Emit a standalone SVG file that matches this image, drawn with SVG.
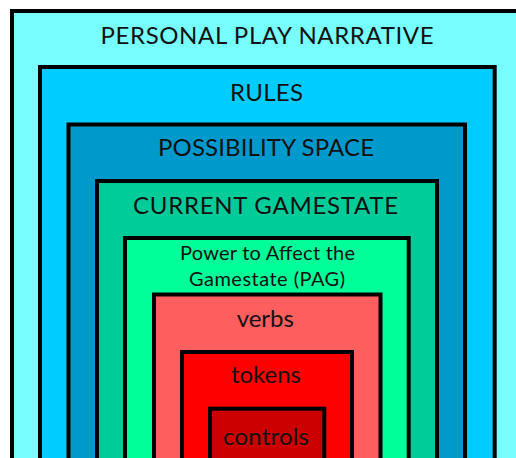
<svg xmlns="http://www.w3.org/2000/svg" width="516" height="458" viewBox="0 0 516 458">
  <style>
    .layer { stroke: #000; stroke-width: 4; }
    .cap { font-family: Lato, "Open Sans", sans-serif; font-size: 24px; fill: #111; text-anchor: middle; }
    .low { font-family: Lato, "Open Sans", sans-serif; font-size: 24px; fill: #111; text-anchor: middle; }
    .pag { font-family: Lato, "Open Sans", sans-serif; font-size: 20px; fill: #111; text-anchor: middle; }
  </style>
  <rect width="516" height="458" fill="#fff"/>
  <!-- nested layers, outermost first; each runs past the bottom edge -->
  <g id="personal-play-narrative">
    <rect class="layer" x="12" y="11" width="512" height="470" fill="#77FFFF"/>
    <text class="cap" x="267" y="44" font-size="26" textLength="333">PERSONAL PLAY NARRATIVE</text>
  </g>
  <g id="rules">
    <rect class="layer" x="40" y="67" width="454.7" height="420" fill="#00CCFF"/>
    <text class="cap" x="266.5" y="100.5" textLength="73">RULES</text>
  </g>
  <g id="possibility-space">
    <rect class="layer" x="68.5" y="124.5" width="396.5" height="360" fill="#0099CC"/>
    <text class="cap" x="266" y="156" textLength="216">POSSIBILITY SPACE</text>
  </g>
  <g id="current-gamestate">
    <rect class="layer" x="97" y="181" width="340" height="300" fill="#00CC99"/>
    <text class="cap" x="265.5" y="214.3" textLength="265">CURRENT GAMESTATE</text>
  </g>
  <g id="power-to-affect">
    <rect class="layer" x="125" y="238" width="283.7" height="240" fill="#00FF99"/>
    <text class="pag" x="267.5" y="260" textLength="175">Power to Affect the</text>
    <text class="pag" x="267" y="285.5" textLength="156">Gamestate (PAG)</text>
  </g>
  <g id="verbs">
    <rect class="layer" x="154" y="294.5" width="226.5" height="190" fill="#FF5E5E"/>
    <text class="low" x="265.3" y="326.7" textLength="57">verbs</text>
  </g>
  <g id="tokens">
    <rect class="layer" x="182" y="352" width="170" height="130" fill="#FF0000"/>
    <text class="low" x="266" y="383.3" textLength="70">tokens</text>
  </g>
  <g id="controls">
    <rect class="layer" x="210" y="408.7" width="114.3" height="80" fill="#CC0000"/>
    <text class="low" x="266" y="445" textLength="86">controls</text>
  </g>
  <g id="connectors"/>
</svg>
